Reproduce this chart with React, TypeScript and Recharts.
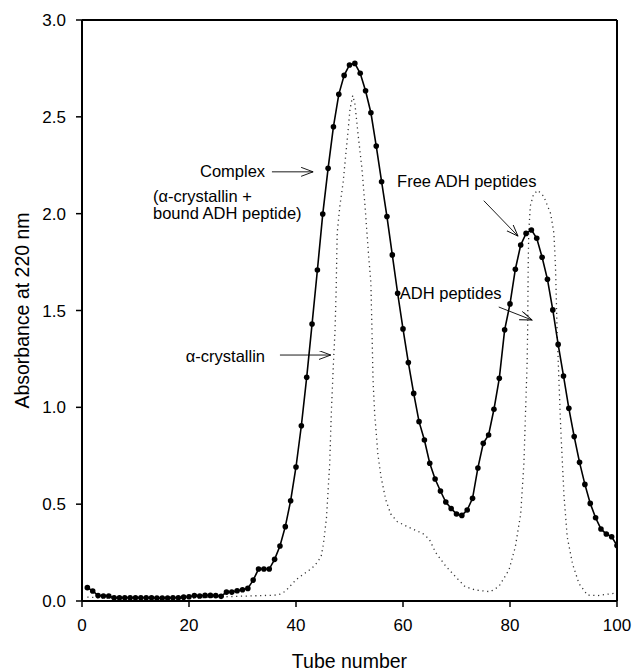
import React from 'react';
import { LineChart, Line, XAxis, YAxis, ReferenceLine, ReferenceDot } from 'recharts';

const FONT = '"Liberation Sans", Arial, Helvetica, sans-serif';

const tubeNumbers = [
  1, 2, 3, 4, 5, 6, 7, 8, 9, 10, 11, 12, 13, 14, 15, 16, 17, 18, 19, 20,
  21, 22, 23, 24, 25, 26, 27, 28, 29, 30, 31, 32, 33, 34, 35, 36, 37, 38, 39, 40,
  41, 42, 43, 44, 45, 46, 47, 48, 49, 50, 51, 52, 53, 54, 55, 56, 57, 58, 59, 60,
  61, 62, 63, 64, 65, 66, 67, 68, 69, 70, 71, 72, 73, 74, 75, 76, 77, 78, 79, 80,
  81, 82, 83, 84, 85, 86, 87, 88, 89, 90, 91, 92, 93, 94, 95, 96, 97, 98, 99, 100,
];

const complexAbsorbance = [
  0.069, 0.052, 0.028, 0.026, 0.026, 0.017, 0.017, 0.017, 0.017, 0.017,
  0.017, 0.017, 0.017, 0.015, 0.015, 0.015, 0.017, 0.017, 0.02, 0.022,
  0.028, 0.026, 0.029, 0.029, 0.028, 0.024, 0.046, 0.046, 0.053, 0.058,
  0.065, 0.108, 0.165, 0.165, 0.165, 0.215, 0.284, 0.384, 0.518, 0.692,
  0.905, 1.155, 1.43, 1.709, 1.998, 2.234, 2.449, 2.616, 2.714, 2.768,
  2.776, 2.725, 2.635, 2.521, 2.349, 2.165, 1.985, 1.787, 1.589, 1.405,
  1.231, 1.072, 0.926, 0.831, 0.711, 0.63, 0.568, 0.511, 0.478, 0.449,
  0.442, 0.47, 0.53, 0.687, 0.814, 0.857, 0.99, 1.15, 1.4, 1.534,
  1.713, 1.838, 1.898, 1.916, 1.873, 1.775, 1.661, 1.503, 1.325, 1.162,
  0.995, 0.849, 0.716, 0.602, 0.504, 0.43, 0.372, 0.346, 0.332, 0.286,
];

// separate runs: alpha-crystallin alone and ADH peptides alone (one dotted trace)
const separateTube = [
  1, 5, 10, 15, 20, 25, 30, 36, 37, 38, 39, 40, 41, 42, 43, 44, 44.7, 45.1, 45.7, 46.3,
  46.6, 47.0, 47.3, 47.5, 47.7, 48.2, 48.8, 49.5, 50.1, 50.6, 51.0, 51.6, 52.3, 52.9, 53.5, 54.0,
  54.2, 54.4, 54.7, 55.3, 55.9, 56.8, 57.7, 58.9, 61.1, 63.6, 64.9, 66.1, 68.0, 69.8, 71.6, 73.5,
  76.3, 77.9, 79.8, 81.0, 82.0, 82.6, 82.9, 83.2, 83.3, 83.4, 83.5, 83.8, 84.4, 85.2, 86.3, 87.6,
  88.2, 88.5, 88.8, 89.2, 89.5, 90.1, 90.7, 91.7, 92.9, 94.5, 96.4, 99.5, 100,
];
const separateAbsorbance = [
  0.02, 0.015, 0.015, 0.015, 0.015, 0.02, 0.025, 0.03, 0.035, 0.05, 0.08, 0.11, 0.13, 0.15, 0.17, 0.2, 0.23, 0.29, 0.43, 0.71,
  0.97, 1.23, 1.4, 1.6, 1.9, 2.04, 2.16, 2.36, 2.54, 2.61, 2.57, 2.41, 2.24, 2.04, 1.81, 1.64,
  1.4, 1.14, 0.97, 0.76, 0.64, 0.52, 0.45, 0.41, 0.38, 0.35, 0.32, 0.25, 0.18, 0.126, 0.074, 0.057,
  0.048, 0.074, 0.16, 0.28, 0.45, 0.71, 0.97, 1.23, 1.4, 1.73, 1.9, 2.04, 2.1, 2.12, 2.09, 2.0,
  1.9, 1.73, 1.4, 1.1, 0.88, 0.54, 0.33, 0.19, 0.09, 0.03, 0.028, 0.04, 0.04,
];

const xTicks = [0, 20, 40, 60, 80, 100];
const yTicks = [0, 0.5, 1.0, 1.5, 2.0, 2.5, 3.0];

// annotations (text anchor start, baseline position in data units)
const noteTexts = ['Complex', '(\u03b1-crystallin +', 'bound ADH peptide)', '\u03b1-crystallin', 'Free ADH peptides', 'ADH peptides'];
const noteTube = [22.06, 13.27, 13.27, 19.4, 58.9, 59.4];
const noteAbs = [2.19, 2.061, 1.972, 1.232, 2.139, 1.559];

// arrows: from (tube, abs) to (tube, abs)
const arrowFromTube = [35.5, 37.0, 75.1, 77.9];
const arrowFromAbs = [2.216, 1.27, 2.067, 1.518];
const arrowToTube = [43.2, 46.5, 81.5, 84.1];
const arrowToAbs = [2.216, 1.27, 1.884, 1.451];

const complexData = tubeNumbers.map((t, i) => ({ x: t, y: complexAbsorbance[i] }));
const separateData = separateTube.map((t, i) => ({ x: t, y: separateAbsorbance[i] }));

const makeNote = (text: string) => (p: any) => (
  <text x={p.cx} y={p.cy} fontFamily={FONT} fontSize={16.5} fill="#000" textAnchor="start">
    {text}
  </text>
);

export default function App() {
  return (
    <div style={{ position: 'absolute', left: 0, top: 0, width: 633, height: 671, background: '#fff' }}>
      <svg width={0} height={0} style={{ position: 'absolute' }}>
        <defs>
          <marker id="openArrow" markerWidth={14} markerHeight={10} refX={12} refY={4.5} orient="auto" markerUnits="userSpaceOnUse">
            <path d="M0,0 L12,4.5 L0,9" fill="none" stroke="#000" strokeWidth={0.9} />
          </marker>
        </defs>
      </svg>
      <LineChart width={633} height={671} margin={{ top: 20, right: 16, bottom: 0, left: 0 }}>
        <XAxis
          type="number"
          dataKey="x"
          domain={[0, 100]}
          ticks={xTicks}
          height={70}
          tickSize={6}
          tickMargin={12}
          allowDataOverflow
          axisLine={{ stroke: '#000', strokeWidth: 2 }}
          tickLine={{ stroke: '#000', strokeWidth: 1.5 }}
          tick={{ fill: '#000', fontSize: 17, fontFamily: FONT }}
          label={{ value: 'Tube number', position: 'insideBottom', offset: 3, fill: '#000', fontSize: 19.5, fontFamily: FONT }}
        />
        <YAxis
          type="number"
          domain={[0, 3]}
          ticks={yTicks}
          width={82}
          tickSize={6}
          tickMargin={10}
          allowDataOverflow
          tickFormatter={(v: number) => v.toFixed(1)}
          axisLine={{ stroke: '#000', strokeWidth: 2 }}
          tickLine={{ stroke: '#000', strokeWidth: 1.5 }}
          tick={{ fill: '#000', fontSize: 17, fontFamily: FONT }}
          label={{ value: 'Absorbance at 220 nm', angle: -90, position: 'insideLeft', offset: 22, fill: '#000', fontSize: 19.5, fontFamily: FONT, style: { textAnchor: 'middle' } }}
        />
        <ReferenceLine y={3} stroke="#000" strokeWidth={2} />
        <ReferenceLine x={100} stroke="#000" strokeWidth={2} />
        <Line
          data={separateData}
          dataKey="y"
          type="linear"
          stroke="#333"
          strokeWidth={1.3}
          strokeDasharray="1.2 3.6"
          dot={false}
          isAnimationActive={false}
        />
        <Line
          data={complexData}
          dataKey="y"
          type="linear"
          stroke="#000"
          strokeWidth={1.6}
          dot={{ r: 2.8, fill: '#000', stroke: '#000', strokeWidth: 0 }}
          isAnimationActive={false}
        />
        {arrowFromTube.map((fx, i) => (
          <ReferenceLine
            key={'a' + i}
            segment={[
              { x: fx, y: arrowFromAbs[i] },
              { x: arrowToTube[i], y: arrowToAbs[i] },
            ]}
            stroke="#000"
            strokeWidth={0.9}
            markerEnd="url(#openArrow)"
          />
        ))}
        {noteTexts.map((t, i) => (
          <ReferenceDot key={'n' + i} x={noteTube[i]} y={noteAbs[i]} r={0} shape={makeNote(t)} />
        ))}
      </LineChart>
    </div>
  );
}
